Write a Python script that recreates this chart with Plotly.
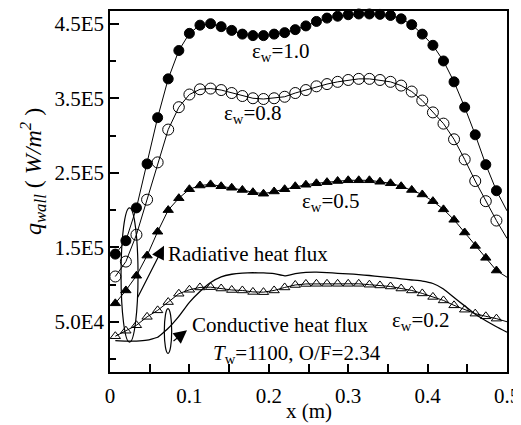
import plotly.graph_objects as go

# ---------------- data ----------------
x_pos = [0.0067, 0.0200, 0.0333, 0.0467, 0.0600, 0.0733, 0.0867, 0.1000, 0.1133, 0.1267,
         0.1400, 0.1533, 0.1667, 0.1800, 0.1933, 0.2067, 0.2200, 0.2333, 0.2467, 0.2600,
         0.2733, 0.2867, 0.3000, 0.3133, 0.3267, 0.3400, 0.3533, 0.3667, 0.3800, 0.3933,
         0.4067, 0.4200, 0.4333, 0.4467, 0.4600, 0.4733, 0.4867, 0.5000]

eps_10 = [1.41e5, 1.59e5, 2.03e5, 2.62e5, 3.24e5, 3.76e5, 4.14e5, 4.37e5, 4.48e5, 4.50e5,
          4.46e5, 4.41e5, 4.36e5, 4.34e5, 4.34e5, 4.36e5, 4.38e5, 4.42e5, 4.47e5, 4.53e5,
          4.575e5, 4.60e5, 4.62e5, 4.63e5, 4.63e5, 4.625e5, 4.61e5, 4.565e5, 4.487e5, 4.36e5,
          4.21e5, 4.00e5, 3.72e5, 3.38e5, 3.01e5, 2.61e5, 2.26e5, 1.99e5]

eps_08 = [1.11e5, 1.31e5, 1.67e5, 2.14e5, 2.64e5, 3.08e5, 3.38e5, 3.55e5, 3.62e5, 3.63e5,
          3.61e5, 3.57e5, 3.53e5, 3.50e5, 3.49e5, 3.50e5, 3.52e5, 3.57e5, 3.61e5, 3.66e5,
          3.69e5, 3.72e5, 3.745e5, 3.76e5, 3.76e5, 3.745e5, 3.72e5, 3.67e5, 3.59e5, 3.47e5,
          3.31e5, 3.16e5, 2.95e5, 2.68e5, 2.39e5, 2.12e5, 1.86e5, 1.62e5]

eps_05 = [7.5e4, 9.23e4, 1.12e5, 1.39e5, 1.71e5, 2.00e5, 2.16e5, 2.28e5, 2.33e5, 2.345e5,
          2.32e5, 2.30e5, 2.27e5, 2.24e5, 2.22e5, 2.25e5, 2.28e5, 2.32e5, 2.34e5, 2.36e5,
          2.375e5, 2.39e5, 2.40e5, 2.40e5, 2.40e5, 2.38e5, 2.36e5, 2.32e5, 2.27e5, 2.21e5,
          2.12e5, 2.01e5, 1.87e5, 1.70e5, 1.52e5, 1.36e5, 1.19e5, 1.10e5]

eps_02 = [3.09e4, 3.83e4, 4.56e4, 5.69e4, 6.56e4, 7.67e4, 8.79e4, 9.32e4, 9.63e4, 9.67e4,
          9.49e4, 9.29e4, 9.23e4, 9.03e4, 9.00e4, 9.23e4, 9.63e4, 9.96e4, 1.01e5, 1.012e5,
          1.012e5, 1.012e5, 1.012e5, 1.012e5, 1.00e5, 9.90e4, 9.76e4, 9.49e4, 9.23e4, 8.83e4,
          8.36e4, 7.89e4, 7.23e4, 6.65e4, 6.12e4, 5.76e4, 5.45e4, 5.03e4]

conductive = [2.49e4, 2.43e4, 2.43e4, 2.56e4, 2.95e4, 4.16e4, 5.76e4, 7.63e4, 9.09e4, 1.029e5,
              1.105e5, 1.14e5, 1.155e5, 1.16e5, 1.158e5, 1.148e5, 1.118e5, 1.148e5, 1.165e5, 1.168e5,
              1.163e5, 1.153e5, 1.145e5, 1.136e5, 1.123e5, 1.109e5, 1.096e5, 1.079e5, 1.063e5, 1.049e5,
              1.016e5, 9.43e4, 8.29e4, 7.16e4, 6.03e4, 5.16e4, 4.36e4, 3.63e4]

y_tickvals = [5e4, 1.5e5, 2.5e5, 3.5e5, 4.5e5]
y_ticktext = ["5.0E4", "1.5E5", "2.5E5", "3.5E5", "4.5E5"]
y_minorvals = [0, 1e5, 2e5, 3e5, 4e5]
x_tickvals = [0, 0.1, 0.2, 0.3, 0.4, 0.5]
x_ticktext = ["0", "0.1", "0.2", "0.3", "0.4", "0.5"]

FONT = "Liberation Serif"
FS = 21

# ---------------- figure ----------------
fig = go.Figure()

def sizes(n, s):
    # last point sits on the right border and shows no marker
    return [s] * (n - 1) + [0]

series = [
    (eps_10, "circle", 10),
    (eps_08, "circle-open", 11),
    (eps_05, "triangle-up", 9),
    (eps_02, "triangle-up-open", 9),
]
for vals, sym, sz in series:
    fig.add_trace(go.Scatter(
        x=x_pos, y=vals, mode="lines+markers",
        line=dict(color="black", width=1),
        marker=dict(symbol=sym, size=sizes(len(vals), sz), color="black", opacity=1,
                    line=dict(color="black", width=1)),
        cliponaxis=False, showlegend=False))

fig.add_trace(go.Scatter(
    x=x_pos, y=conductive, mode="lines",
    line=dict(color="black", width=1.3, shape="spline", smoothing=0.3),
    showlegend=False))

# ellipses
fig.add_shape(type="circle", xref="x", yref="y", x0=0.0139, x1=0.0353, y0=2.3e4, y1=2.03e5,
              line=dict(color="black", width=1.2))
fig.add_shape(type="circle", xref="x", yref="y", x0=0.0684, x1=0.0777, y0=7.9e3, y1=6.79e4,
              line=dict(color="black", width=1.2))

ann = []
def txt(text, x, y, size=FS, xanchor="left"):
    ann.append(dict(text=text, x=x, y=y, xref="x", yref="y", showarrow=False,
                    xanchor=xanchor, yanchor="middle",
                    font=dict(family=FONT, size=size, color="black")))

txt("ε<sub>w</sub>=1.0", 0.1763, 4.123e5)
txt("ε<sub>w</sub>=0.8", 0.141, 3.283e5)
txt("ε<sub>w</sub>=0.5", 0.2393, 2.109e5)
txt("ε<sub>w</sub>=0.2", 0.3526, 5.09e4)
txt("Radiative heat flux", 0.071, 1.416e5)
txt("Conductive heat flux", 0.1013, 4.56e4)
txt("<i>T</i><sub>w</sub>=1100, O/F=2.34", 0.1277, 7.0e3)

# arrows
ann.append(dict(x=0.068, y=1.523e5, xref="x", yref="y", ax=-27, ay=53, text="",
                showarrow=True, arrowhead=2, arrowsize=2.2, arrowwidth=1.2,
                arrowcolor="black", standoff=0))
ann.append(dict(x=0.097, y=3.89e4, xref="x", yref="y", ax=-15, ay=12, text="",
                showarrow=True, arrowhead=2, arrowsize=2.2, arrowwidth=1.2,
                arrowcolor="black", standoff=0))

# axis titles
ann.append(dict(text="<i>q<sub>wall</sub></i> ( <i>W/m<sup>2</sup></i> )",
                x=-0.194, y=0.5565, xref="paper", yref="paper", showarrow=False,
                textangle=-90, xanchor="center", yanchor="middle",
                font=dict(family=FONT, size=24, color="black")))
ann.append(dict(text="x (m)", x=0.5, y=-0.1074, xref="paper", yref="paper",
                showarrow=False, xanchor="center", yanchor="middle",
                font=dict(family=FONT, size=FS, color="black")))

# the page body has an 8px margin, so the margins compensate for that offset
fig.update_layout(
    width=521, height=425,
    margin=dict(l=102, r=22, t=1, b=61),
    paper_bgcolor="white", plot_bgcolor="white",
    font=dict(family=FONT, size=FS, color="black"),
    annotations=ann,
    xaxis=dict(range=[0, 0.5], tickmode="array", tickvals=x_tickvals, ticktext=x_ticktext,
               ticks="inside", ticklen=8, tickwidth=1.5, tickcolor="black",
               minor=dict(tickmode="linear", tick0=0.05, dtick=0.1, ticks="inside",
                          ticklen=8, tickwidth=1.5, tickcolor="black"),
               showline=True, linecolor="black", linewidth=1.5, mirror=True,
               showgrid=False, zeroline=False, ticklabelstandoff=4,
               tickfont=dict(family=FONT, size=FS, color="black")),
    yaxis=dict(range=[-1.707e4, 4.67e5], tickmode="array", tickvals=y_tickvals, ticktext=y_ticktext,
               ticks="inside", ticklen=9, tickwidth=1.5, tickcolor="black",
               minor=dict(tickmode="array", tickvals=y_minorvals, ticks="inside",
                          ticklen=6, tickwidth=1.5, tickcolor="black"),
               showline=True, linecolor="black", linewidth=1.5, mirror=True,
               showgrid=False, zeroline=False,
               tickfont=dict(family=FONT, size=FS, color="black")),
)

fig.write_html("out.html")
